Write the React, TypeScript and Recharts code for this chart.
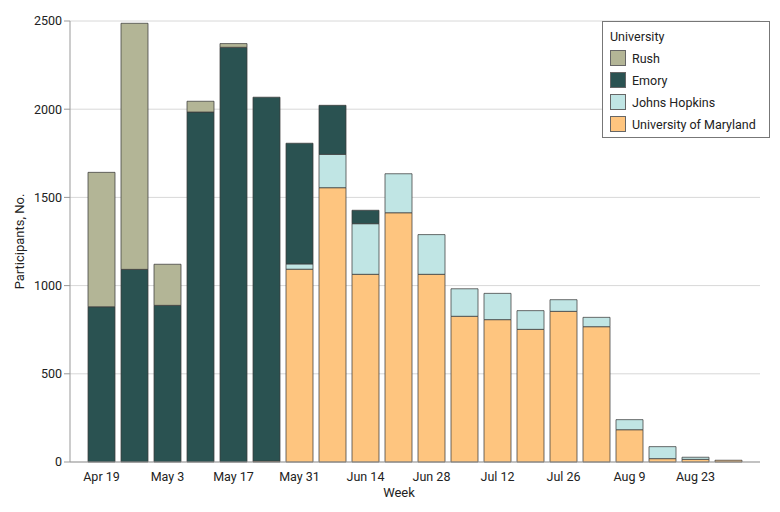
import React from 'react';
import { BarChart, Bar, XAxis, YAxis, CartesianGrid, Label } from 'recharts';

const weeks = ['Apr 19', 'Apr 26', 'May 3', 'May 10', 'May 17', 'May 24', 'May 31', 'Jun 7', 'Jun 14', 'Jun 21', 'Jun 28', 'Jul 5', 'Jul 12', 'Jul 19', 'Jul 26', 'Aug 2', 'Aug 9', 'Aug 16', 'Aug 23', 'Aug 30'];
const umd = [0, 0, 0, 0, 0, 5, 1093, 1555, 1064, 1413, 1064, 826, 807, 752, 854, 767, 183, 19, 15, 10];
const jhu = [0, 0, 0, 0, 0, 0, 30, 189, 287, 221, 225, 156, 149, 106, 66, 53, 57, 68, 12, 0];
const emory = [880, 1092, 888, 1984, 2351, 2063, 684, 278, 76, 0, 0, 0, 0, 0, 0, 0, 0, 0, 0, 0];
const rush = [762, 1395, 233, 61, 21, 0, 0, 0, 0, 0, 0, 0, 0, 0, 0, 0, 0, 0, 0, 0];
const yTicks = [0, 500, 1000, 1500, 2000, 2500];

const COLORS = {
  rush: '#b3b596',
  emory: '#2a5251',
  jhu: '#c0e5e4',
  umd: '#fec57f',
};

const data = weeks.map((w, i) => ({ week: w, umd: umd[i], jhu: jhu[i], emory: emory[i], rush: rush[i] }));

const legendItems = [
  { name: 'Rush', color: COLORS.rush },
  { name: 'Emory', color: COLORS.emory },
  { name: 'Johns Hopkins', color: COLORS.jhu },
  { name: 'University of Maryland', color: COLORS.umd },
];

const FONT = 'Roboto, "Noto Sans", sans-serif';

const LegendBox = () => (
  <div
    style={{
      position: 'absolute',
      left: 602,
      top: 21,
      width: 168,
      height: 117,
      border: '1px solid #777',
      background: '#fff',
      padding: '6px 10px 4px 7px',
      fontFamily: FONT,
      fontSize: 12.5,
      color: '#222',
      boxSizing: 'border-box',
    }}
  >
    <div style={{ marginBottom: 2, lineHeight: '17px' }}>University</div>
    {legendItems.map((it) => (
      <div key={it.name} style={{ display: 'flex', alignItems: 'center', height: 22 }}>
        <span
          style={{
            display: 'inline-block',
            width: 16,
            height: 16,
            background: it.color,
            border: '1px solid #666',
            boxSizing: 'border-box',
            marginRight: 6,
          }}
        />
        <span>{it.name}</span>
      </div>
    ))}
  </div>
);

const barStroke = '#3c3c3c';

const WeekLabel = (props: any) => {
  const vb = props.viewBox || {};
  const cx = vb.x + vb.width / 2 - 16;
  return (
    <text x={cx} y={vb.y + vb.height - 15} textAnchor="middle" fill="#222" fontSize={13} fontFamily={FONT}>
      Week
    </text>
  );
};

export default function App() {
  return (
    <div style={{ position: 'absolute', left: 0, top: 0, width: 780, height: 512, background: '#fff' }}>
      <BarChart
        width={780}
        height={512}
        data={data}
        margin={{ top: 21, right: 20, left: 0, bottom: 0 }}
        barCategoryGap={3}
      >
        <CartesianGrid vertical={false} stroke="#d8d8d8" />
        <XAxis
          dataKey="week"
          interval={1}
          tickLine={false}
          axisLine={{ stroke: '#999' }}
          height={50}
          padding={{ left: 15, right: 15 }}
          tick={{ fill: '#222', fontSize: 12.5, fontFamily: FONT }}
          tickMargin={4}
        >
          <Label content={<WeekLabel />} position="insideBottom" />
        </XAxis>
        <YAxis
          width={70}
          domain={[0, 2500]}
          ticks={yTicks}
          tickLine={{ stroke: '#999' }}
          axisLine={{ stroke: '#999' }}
          tick={{ fill: '#222', fontSize: 12.5, fontFamily: FONT }}
        >
          <Label
            value="Participants, No."
            angle={-90}
            position="insideLeft"
            offset={19}
            style={{ textAnchor: 'middle', fill: '#222', fontSize: 13, fontFamily: FONT }}
          />
        </YAxis>
        <Bar dataKey="umd" stackId="a" fill={COLORS.umd} stroke={barStroke} strokeOpacity={0.75} isAnimationActive={false} />
        <Bar dataKey="jhu" stackId="a" fill={COLORS.jhu} stroke={barStroke} strokeOpacity={0.75} isAnimationActive={false} />
        <Bar dataKey="emory" stackId="a" fill={COLORS.emory} stroke={barStroke} strokeOpacity={0.75} isAnimationActive={false} />
        <Bar dataKey="rush" stackId="a" fill={COLORS.rush} stroke={barStroke} strokeOpacity={0.75} isAnimationActive={false} />
      </BarChart>
      <LegendBox />
    </div>
  );
}
